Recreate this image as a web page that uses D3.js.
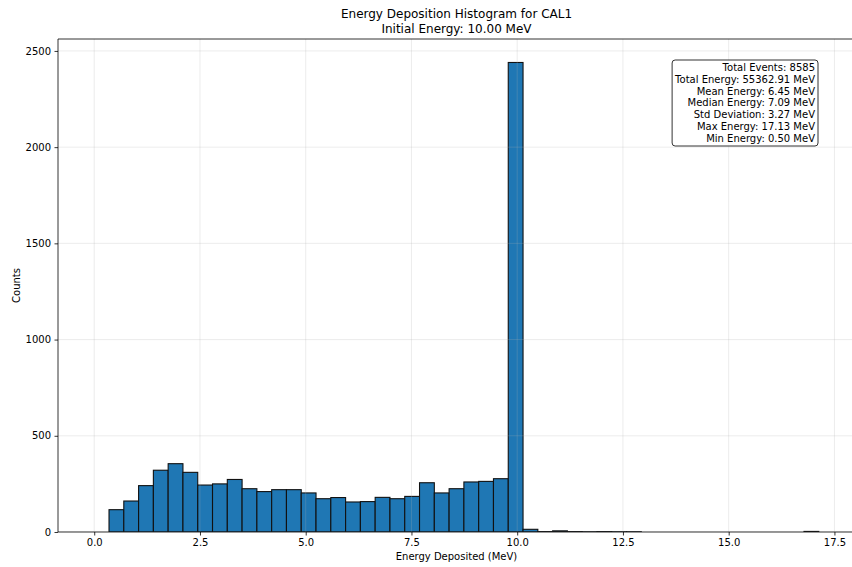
<!DOCTYPE html>
<html>
<head>
<meta charset="utf-8">
<script src="https://cdn.jsdelivr.net/npm/d3@7"></script>
<style>
  html, body { margin: 0; padding: 0; background: #fff; }
  svg { display: block; font-family: "DejaVu Sans", sans-serif; }
</style>
</head>
<body>
<svg id="chart" width="852" height="567"></svg>
<script>
// Histogram of deposited energy: 49 equal-width bins spanning 0 .. max energy
const maxEnergy = 17.13;
const binCounts = [
  0, 116, 161, 241, 321, 355, 310, 244, 250, 273,
  225, 210, 220, 220, 203, 173, 179, 156, 158, 180,
  173, 185, 256, 203, 225, 260, 263, 277, 2440, 14,
  2, 6, 2, 1, 2, 1, 1, 0, 0, 0,
  0, 0, 0, 0, 0, 0, 0, 0, 3
];
const xTicks = [0, 2.5, 5, 7.5, 10, 12.5, 15, 17.5];
const yTicks = [0, 500, 1000, 1500, 2000, 2500];
const titleLines = ["Energy Deposition Histogram for CAL1", "Initial Energy: 10.00 MeV"];
const statsLines = [
  "Total Events: 8585",
  "Total Energy: 55362.91 MeV",
  "Mean Energy: 6.45 MeV",
  "Median Energy: 7.09 MeV",
  "Std Deviation: 3.27 MeV",
  "Max Energy: 17.13 MeV",
  "Min Energy: 0.50 MeV"
];

const svg = d3.select("#chart");
const plot = { left: 58, right: 855, top: 39, bottom: 532 };

const binWidth = maxEnergy / binCounts.length;
const bins = binCounts.map((c, i) => ({ x0: i * binWidth, x1: (i + 1) * binWidth, count: c }));

const pad = maxEnergy * 0.05;
const x = d3.scaleLinear().domain([-pad, maxEnergy + pad]).range([plot.left, plot.right]);
const yMax = d3.max(binCounts) * 1.05;
const y = d3.scaleLinear().domain([0, yMax]).range([plot.bottom, plot.top]);

svg.append("defs").append("clipPath").attr("id", "plotClip")
  .append("rect")
  .attr("x", plot.left).attr("y", plot.top)
  .attr("width", plot.right - plot.left).attr("height", plot.bottom - plot.top);

// bars
svg.append("g").attr("clip-path", "url(#plotClip)")
  .selectAll("rect").data(bins.filter(b => b.count > 0)).join("rect")
  .attr("x", d => x(d.x0))
  .attr("width", d => x(d.x1) - x(d.x0))
  .attr("y", d => y(d.count))
  .attr("height", d => y(0) - y(d.count))
  .attr("fill", "#1f77b4")
  .attr("stroke", "#111")
  .attr("stroke-width", 1.1);

// grid, drawn over the bars
const grid = svg.append("g").attr("clip-path", "url(#plotClip)");
grid.selectAll("line.gx").data(xTicks).join("line")
  .attr("x1", d => x(d)).attr("x2", d => x(d))
  .attr("y1", plot.top).attr("y2", plot.bottom)
  .attr("stroke", "#b0b0b0").attr("stroke-opacity", 0.3).attr("stroke-width", 0.8);
grid.selectAll("line.gy").data(yTicks).join("line")
  .attr("x1", plot.left).attr("x2", plot.right)
  .attr("y1", d => y(d)).attr("y2", d => y(d))
  .attr("stroke", "#b0b0b0").attr("stroke-opacity", 0.3).attr("stroke-width", 0.8);

// axes
const xAxis = d3.axisBottom(x).tickValues(xTicks).tickFormat(d3.format(".1f")).tickSizeOuter(0).tickSize(3.5).tickPadding(3.5);
const yAxis = d3.axisLeft(y).tickValues(yTicks).tickFormat(d3.format("d")).tickSizeOuter(0).tickSize(3.5).tickPadding(3.5);

const gx = svg.append("g").attr("transform", `translate(0,${plot.bottom})`).call(xAxis);
const gy = svg.append("g").attr("transform", `translate(${plot.left},0)`).call(yAxis);
[gx, gy].forEach(g => {
  g.selectAll("text").attr("font-size", 10).attr("fill", "#000").attr("font-family", "DejaVu Sans, sans-serif");
  g.selectAll("line").attr("stroke", "#000").attr("stroke-width", 0.8);
  g.select(".domain").remove();
});

// frame
const frame = svg.append("g").attr("stroke", "#000").attr("stroke-width", 0.8);
frame.append("line").attr("x1", plot.left).attr("x2", plot.left).attr("y1", plot.top).attr("y2", plot.bottom);
frame.append("line").attr("x1", plot.left).attr("x2", plot.right).attr("y1", plot.bottom).attr("y2", plot.bottom);
frame.append("line").attr("x1", plot.left).attr("x2", plot.right).attr("y1", plot.top).attr("y2", plot.top);
frame.append("line").attr("x1", plot.right).attr("x2", plot.right).attr("y1", plot.top).attr("y2", plot.bottom);

// title
const cx = (plot.left + plot.right) / 2;
svg.append("g").selectAll("text").data(titleLines).join("text")
  .attr("x", cx).attr("y", (d, i) => 18 + i * 15)
  .attr("text-anchor", "middle").attr("font-size", 12).attr("fill", "#000")
  .text(d => d);

// axis labels
svg.append("text").attr("x", cx).attr("y", 560)
  .attr("text-anchor", "middle").attr("font-size", 10).text("Energy Deposited (MeV)");
svg.append("text").attr("transform", `translate(20,${(plot.top + plot.bottom) / 2}) rotate(-90)`)
  .attr("text-anchor", "middle").attr("font-size", 10).text("Counts");

// statistics box
const stats = svg.append("g");
const lineH = 11.8;
const textRight = 815;
const firstBase = 71;
const statText = stats.selectAll("text").data(statsLines).join("text")
  .attr("x", textRight).attr("y", (d, i) => firstBase + i * lineH)
  .attr("text-anchor", "end").attr("font-size", 10).attr("fill", "#000")
  .text(d => d);
const widest = d3.max(statText.nodes(), n => n.getComputedTextLength());
stats.insert("rect", "text")
  .attr("x", textRight - widest - 3).attr("y", 60)
  .attr("width", widest + 6).attr("height", 86)
  .attr("rx", 3).attr("ry", 3)
  .attr("fill", "#fff").attr("fill-opacity", 0.8)
  .attr("stroke", "#333").attr("stroke-width", 1);
</script>
</body>
</html>
